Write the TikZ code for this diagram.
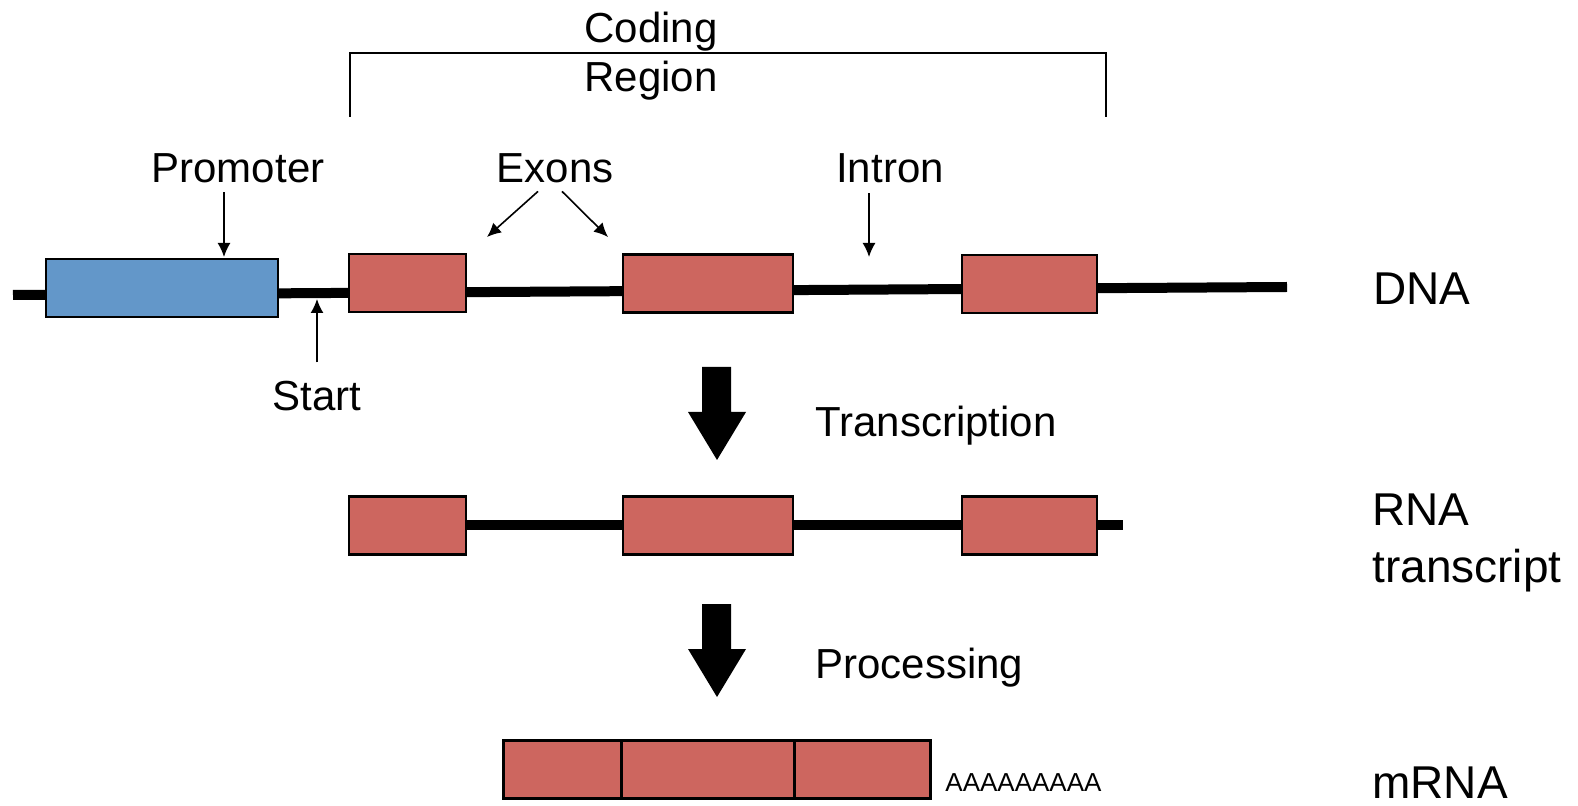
\documentclass[tikz,border=0pt]{standalone}
\usepackage{fontspec}
\setmainfont{Liberation Sans}
\usetikzlibrary{arrows.meta,positioning}

\definecolor{promblue}{RGB}{99,151,201}
\definecolor{exonred}{RGB}{205,102,95}

\begin{document}
\begin{tikzpicture}[x=0.5pt,y=-0.5pt]
    \tikzstyle{box}=[rectangle,draw,line width=1.1pt,inner sep=0pt,outer sep=0pt,minimum height=29pt]
    \tikzstyle{exon}=[box,fill=exonred]        % exon block
    \tikzstyle{promoter}=[box,fill=promblue]   % promoter block
    \tikzstyle{strand}=[line width=5pt]
    \tikzstyle{pointer}=[-{Latex[length=7pt,width=6.5pt]},line width=0.8pt]
    \tikzstyle{lbl}=[font=\fontsize{21}{24.5}\selectfont,inner sep=0pt,text depth=0pt]
    \tikzstyle{side}=[font=\fontsize{23}{28.5}\selectfont,inner sep=0pt,align=left]

    \useasboundingbox (0,0) rectangle (1578,806);

    % DNA strand first, boxes go on top
    \coordinate (dnaL) at (13,295);
    \coordinate (dnaR) at (1287,287);
    \draw[strand] (dnaL) -- (dnaR);

    \node[promoter,minimum width=116pt] (prom) at (162,288) {};
    \node[exon,minimum width=58.5pt] (ex1) at (407.5,283) {};
    \node[exon,minimum width=85pt]   (ex2) at (708,283.5) {};
    \node[exon,minimum width=67.5pt] (ex3) at (1029.5,284) {};

    % coding region bracket
    \coordinate (codeL) at (350,117);
    \coordinate (codeR) at (1106,117);
    \coordinate (codeTop) at (0,53);
    \draw[line width=1.2pt] (codeL) -- (codeL |- codeTop) -- (codeR |- codeTop) -- (codeR);
    \node[lbl,align=center,anchor=base] (codetxt) at (651,92) {Coding\\Region};

    % labels with pointers
    \node[lbl,anchor=base] (promtxt) at (238,183) {Promoter};
    \node[lbl,anchor=base] (exontxt) at (555,183) {Exons};
    \node[lbl,anchor=base] (introntxt) at (890,183) {Intron};
    \node[lbl,anchor=base] (starttxt) at (317,411) {Start};

    \coordinate (promtip) at (224,257);
    \coordinate (exhit1) at (487,237);
    \coordinate (exhit2) at (608,237);
    \coordinate (introntip) at (869,257);
    \coordinate (starttip) at (317,299);

    \draw[pointer] ([yshift=-4.5pt]promtxt.south -| promtip) -- (promtip);
    \draw[pointer] ([xshift=-8.5pt,yshift=-4pt]exontxt.south) -- (exhit1);
    \draw[pointer] ([xshift=3.5pt,yshift=-4pt]exontxt.south) -- (exhit2);
    \draw[pointer] ([yshift=-5pt]introntxt.south -| introntip) -- (introntip);
    \draw[pointer] ([yshift=9.5pt]starttxt.north -| starttip) -- (starttip);

    % fat down arrows between the stages
    \foreach \y in {367,604}
        \fill (702,\y) -- (731,\y) -- (731,\y+45) -- (746,\y+45) -- (717,\y+93)
              -- (688,\y+45) -- (702,\y+45) -- cycle;
    \node[lbl,anchor=base west] (transc) at (815,437) {Transcription};
    \node[lbl,anchor=base west] (procs) at (815,678) {Processing};

    % RNA transcript
    \coordinate (rnaL) at (407.5,525);
    \coordinate (rnaR) at (1123,525);
    \draw[strand] (rnaL) -- (rnaR);
    \node[exon,minimum width=58.5pt] (rx1) at (407.5,525.5) {};
    \node[exon,minimum width=85pt]   (rx2) at (708,525.5) {};
    \node[exon,minimum width=67.5pt] (rx3) at (1029.5,525.5) {};

    % mRNA, exons joined end to end
    \node[exon,minimum width=59pt] (m1) at (562.5,769.5) {};
    \node[exon,minimum width=86.5pt,right=0pt of m1] (m2) {};
    \node[exon,minimum width=68pt,right=0pt of m2] (m3) {};
    \node[anchor=base west,font=\fontsize{13}{15}\selectfont,inner sep=0pt] (polya) at (945,791) {AAAAAAAAA};

    % stage names
    \node[side,anchor=base west] (dnatxt) at (1373,305) {DNA};
    \node[side,anchor=base west] (rnatxt) at (1372,582) {RNA\\transcript};
    \node[side,anchor=base west] (mrnatxt) at (1372,798) {mRNA};
\end{tikzpicture}
\end{document}
